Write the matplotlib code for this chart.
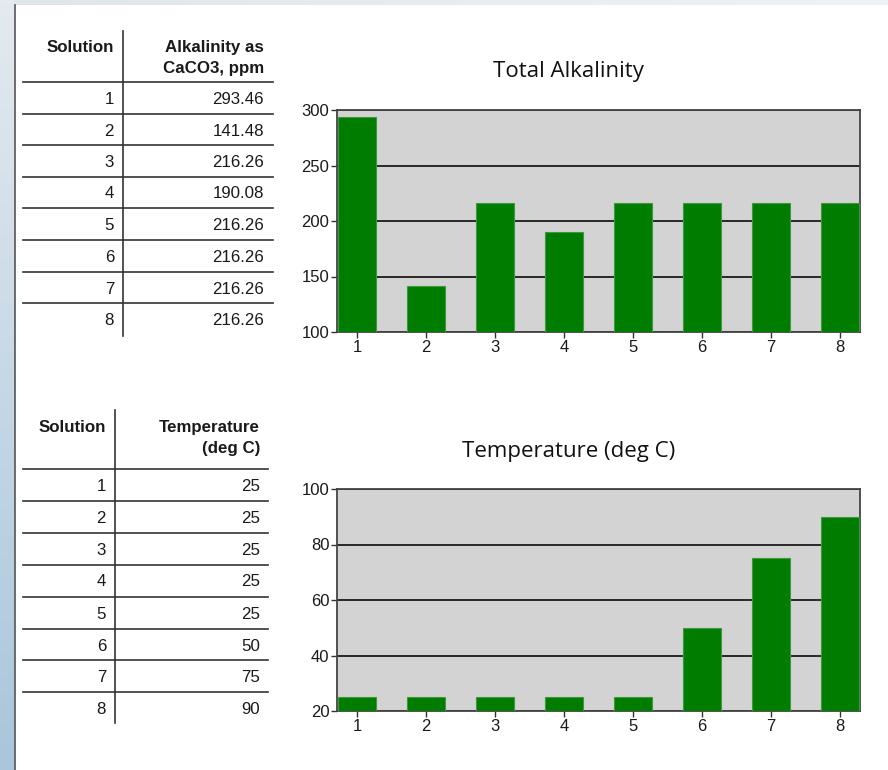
import numpy as np
import matplotlib
matplotlib.use('Agg')
import matplotlib.pyplot as plt
from matplotlib.lines import Line2D

solutions = [1, 2, 3, 4, 5, 6, 7, 8]
alkalinity = [293.46, 141.48, 216.26, 190.08, 216.26, 216.26, 216.26, 216.26]
alk_labels = ["293.46", "141.48", "216.26", "190.08", "216.26", "216.26", "216.26", "216.26"]
temperature = [25, 25, 25, 25, 25, 50, 75, 90]
temp_labels = ["25", "25", "25", "25", "25", "50", "75", "90"]

W, H = 888, 770
fig = plt.figure(figsize=(W / 100, H / 100), dpi=100)
fig.patch.set_facecolor('white')

# background / table layer in pixel coordinates
bg = fig.add_axes([0, 0, 1, 1], zorder=0)
bg.axis('off')

# window frame: left gradient strip and top strip
grad = np.linspace(0, 1, 256).reshape(-1, 1)
left_cmap = matplotlib.colors.LinearSegmentedColormap.from_list('l', ['#e4eaef', '#a9c6dc'])
bg.imshow(grad, cmap=left_cmap, extent=[0, 14, H, 0], aspect='auto', zorder=0)
top_cmap = matplotlib.colors.LinearSegmentedColormap.from_list('t', ['#dfe6ea', '#eef2f4'])
bg.imshow(grad.T, cmap=top_cmap, extent=[14, W, 5, 0], aspect='auto', zorder=0)
bg.add_line(Line2D([14.5, 14.5], [5, H], color='#555555', lw=1.2))
bg.set_xlim(0, W)
bg.set_ylim(H, 0)

tfont = dict(family=['Liberation Sans', 'DejaVu Sans'], fontsize=12.2, color='#1a1a1a')


def draw_table(col1_x, col2_x, vline_x, vtop, vbot, line_ys, head_base, head2, values, line_right):
    bg.add_line(Line2D([vline_x, vline_x], [vtop, vbot], color='#333333', lw=1.2))
    for y in line_ys:
        bg.add_line(Line2D([23, line_right], [y, y], color='#333333', lw=1.2))
    bg.text(col1_x, head_base, "Solution", ha='right', va='baseline', fontweight='bold', **tfont)
    for i, h in enumerate(head2):
        bg.text(col2_x, head_base + 21.5 * i, h, ha='right', va='baseline', fontweight='bold', **tfont)
    for i, (s, v) in enumerate(zip(solutions, values)):
        y = line_ys[i] + 22
        bg.text(col1_x, y, str(s), ha='right', va='baseline', **tfont)
        bg.text(col2_x, y, v, ha='right', va='baseline', **tfont)


draw_table(114, 264, 123, 31, 336,
           [82, 113.5, 145, 176.5, 208, 240, 271.5, 303],
           52, ["Alkalinity as", "CaCO3, ppm"], alk_labels, 273)
draw_table(106, 260, 115, 410, 723,
           [469, 501, 533, 564.5, 597, 629, 660, 692],
           432, ["Temperature", "(deg C)"], temp_labels, 268)


def bar_chart(top, bottom, values, ylim, yticks, title, title_base):
    left, right = 337, 860
    ax = fig.add_axes([left / W, (H - bottom) / H, (right - left) / W, (bottom - top) / H], zorder=2)
    ax.set_facecolor('#d3d3d3')
    ax.bar(solutions, values, width=0.56, color='#007c00', edgecolor='#3c9a3c', linewidth=0.8, zorder=3)
    ax.set_xlim(0.71, 8.29)
    ax.set_ylim(*ylim)
    ax.set_yticks(yticks)
    ax.set_xticks(solutions)
    ax.yaxis.grid(True, color='#1a1a1a', linewidth=1.3, zorder=1)
    ax.set_axisbelow(True)
    for sp in ax.spines.values():
        sp.set_color('#444444')
        sp.set_linewidth(1.3)
    ax.tick_params(axis='both', direction='out', length=4.5, width=1, color='#333333',
                   labelsize=12, labelcolor='#1a1a1a')
    ax.tick_params(axis='y', pad=1)
    ax.tick_params(axis='x', pad=1.5)
    for lab in ax.get_xticklabels() + ax.get_yticklabels():
        lab.set_family(['Liberation Sans', 'DejaVu Sans'])
    fig.text(568.5 / W, (H - title_base) / H, title, ha='center', va='baseline',
             fontsize=16, color='#111111', family=['Open Sans', 'DejaVu Sans'])
    return ax


bar_chart(110, 332, alkalinity, (100, 300), [100, 150, 200, 250, 300], "Total Alkalinity", 77.5)
bar_chart(489, 711, temperature, (20, 100), [20, 40, 60, 80, 100], "Temperature (deg C)", 456.5)

fig.savefig('out.png', dpi=100)
